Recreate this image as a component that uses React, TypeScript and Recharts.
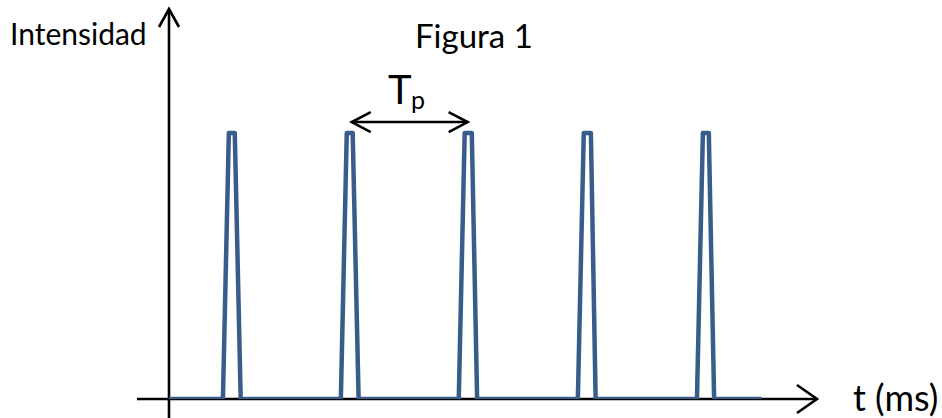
import React from 'react';
import { LineChart, Line, XAxis, YAxis, ReferenceLine } from 'recharts';

// time (ms) and normalised intensity
const timeMs = [0, 4.55, 5.05, 5.55, 6.05, 14.5, 15.0, 15.5, 16.0, 24.45, 24.95, 25.55, 26.0, 34.5, 35.0, 35.6, 36.0, 44.55, 45.05, 45.55, 46.0, 50.0];
const intensity = [0, 0, 1, 1, 0, 0, 1, 1, 0, 0, 1, 1, 0, 0, 1, 1, 0, 0, 1, 1, 0, 0];

const xDomain: [number, number] = [0, 54.68];
const yDomain: [number, number] = [0, 1.466];

const pulseData = timeMs.map((t, i) => ({ t, v: intensity[i] }));

const FONT = 'Lato, "Open Sans", sans-serif';

const Chevron = ({ x, y, dx, dy, len, half }: any) => {
  // arrow tip at (x,y) pointing along (dx,dy)
  const n = Math.hypot(dx, dy);
  const ux = dx / n;
  const uy = dy / n;
  const px = -uy;
  const py = ux;
  const bx = x - ux * len;
  const by = y - uy * len;
  return (
    <polyline
      points={`${bx + px * half},${by + py * half} ${x},${y} ${bx - px * half},${by - py * half}`}
      fill="none"
      stroke="#000"
      strokeWidth={2.6}
      strokeLinejoin="miter"
    />
  );
};

const arrowShape = (len: number, half: number, both: boolean) => (props: any) => {
  const { x1, y1, x2, y2 } = props;
  return (
    <g>
      <line x1={x1} y1={y1} x2={x2} y2={y2} stroke="#000" strokeWidth={2.6} />
      <Chevron x={x2} y={y2} dx={x2 - x1} dy={y2 - y1} len={len} half={half} />
      {both && <Chevron x={x1} y={y1} dx={x1 - x2} dy={y1 - y2} len={len} half={half} />}
    </g>
  );
};

export default function App() {
  return (
    <div style={{ position: 'absolute', left: 0, top: 0, width: 942, height: 418, background: '#fff' }}>
      <LineChart
        width={942}
        height={418}
        data={pulseData}
        margin={{ top: 9, right: 125, bottom: 19, left: 169 }}
        style={{ overflow: 'visible' }}
      >
        <XAxis dataKey="t" type="number" domain={xDomain} hide allowDataOverflow />
        <YAxis type="number" domain={yDomain} hide allowDataOverflow />
        <ReferenceLine
          segment={[{ x: -2.7, y: 0 }, { x: 54.68, y: 0 }]}
          ifOverflow="visible"
          shape={arrowShape(20, 14, false)}
        />
        <ReferenceLine
          segment={[{ x: 0, y: -0.075 }, { x: 0, y: 1.466 }]}
          ifOverflow="visible"
          shape={arrowShape(18, 10, false)}
        />
        <Line
          type="linear"
          dataKey="v"
          stroke="#385D8A"
          strokeWidth={4.5}
          dot={false}
          activeDot={false}
          isAnimationActive={false}
          strokeLinejoin="round"
        />
        <ReferenceLine
          segment={[{ x: 15.42, y: 1.041 }, { x: 25.2, y: 1.041 }]}
          ifOverflow="visible"
          shape={arrowShape(19, 10, true)}
        />
      </LineChart>
      <svg
        width={942}
        height={418}
        style={{ position: 'absolute', left: 0, top: 0, pointerEvents: 'none' }}
      >
        <text x={10} y={45} fontFamily={FONT} fontSize={30} fill="#000">Intensidad</text>
        <text x={415} y={48} fontFamily={FONT} fontSize={33} fill="#000">Figura 1</text>
        <text x={388} y={104} fontFamily={FONT} fontSize={40} fill="#000">T</text>
        <text x={411} y={109} fontFamily={FONT} fontSize={25} fill="#000">p</text>
        <text x={853} y={411} fontFamily={FONT} fontSize={36} fill="#000">t (ms)</text>
      </svg>
    </div>
  );
}
